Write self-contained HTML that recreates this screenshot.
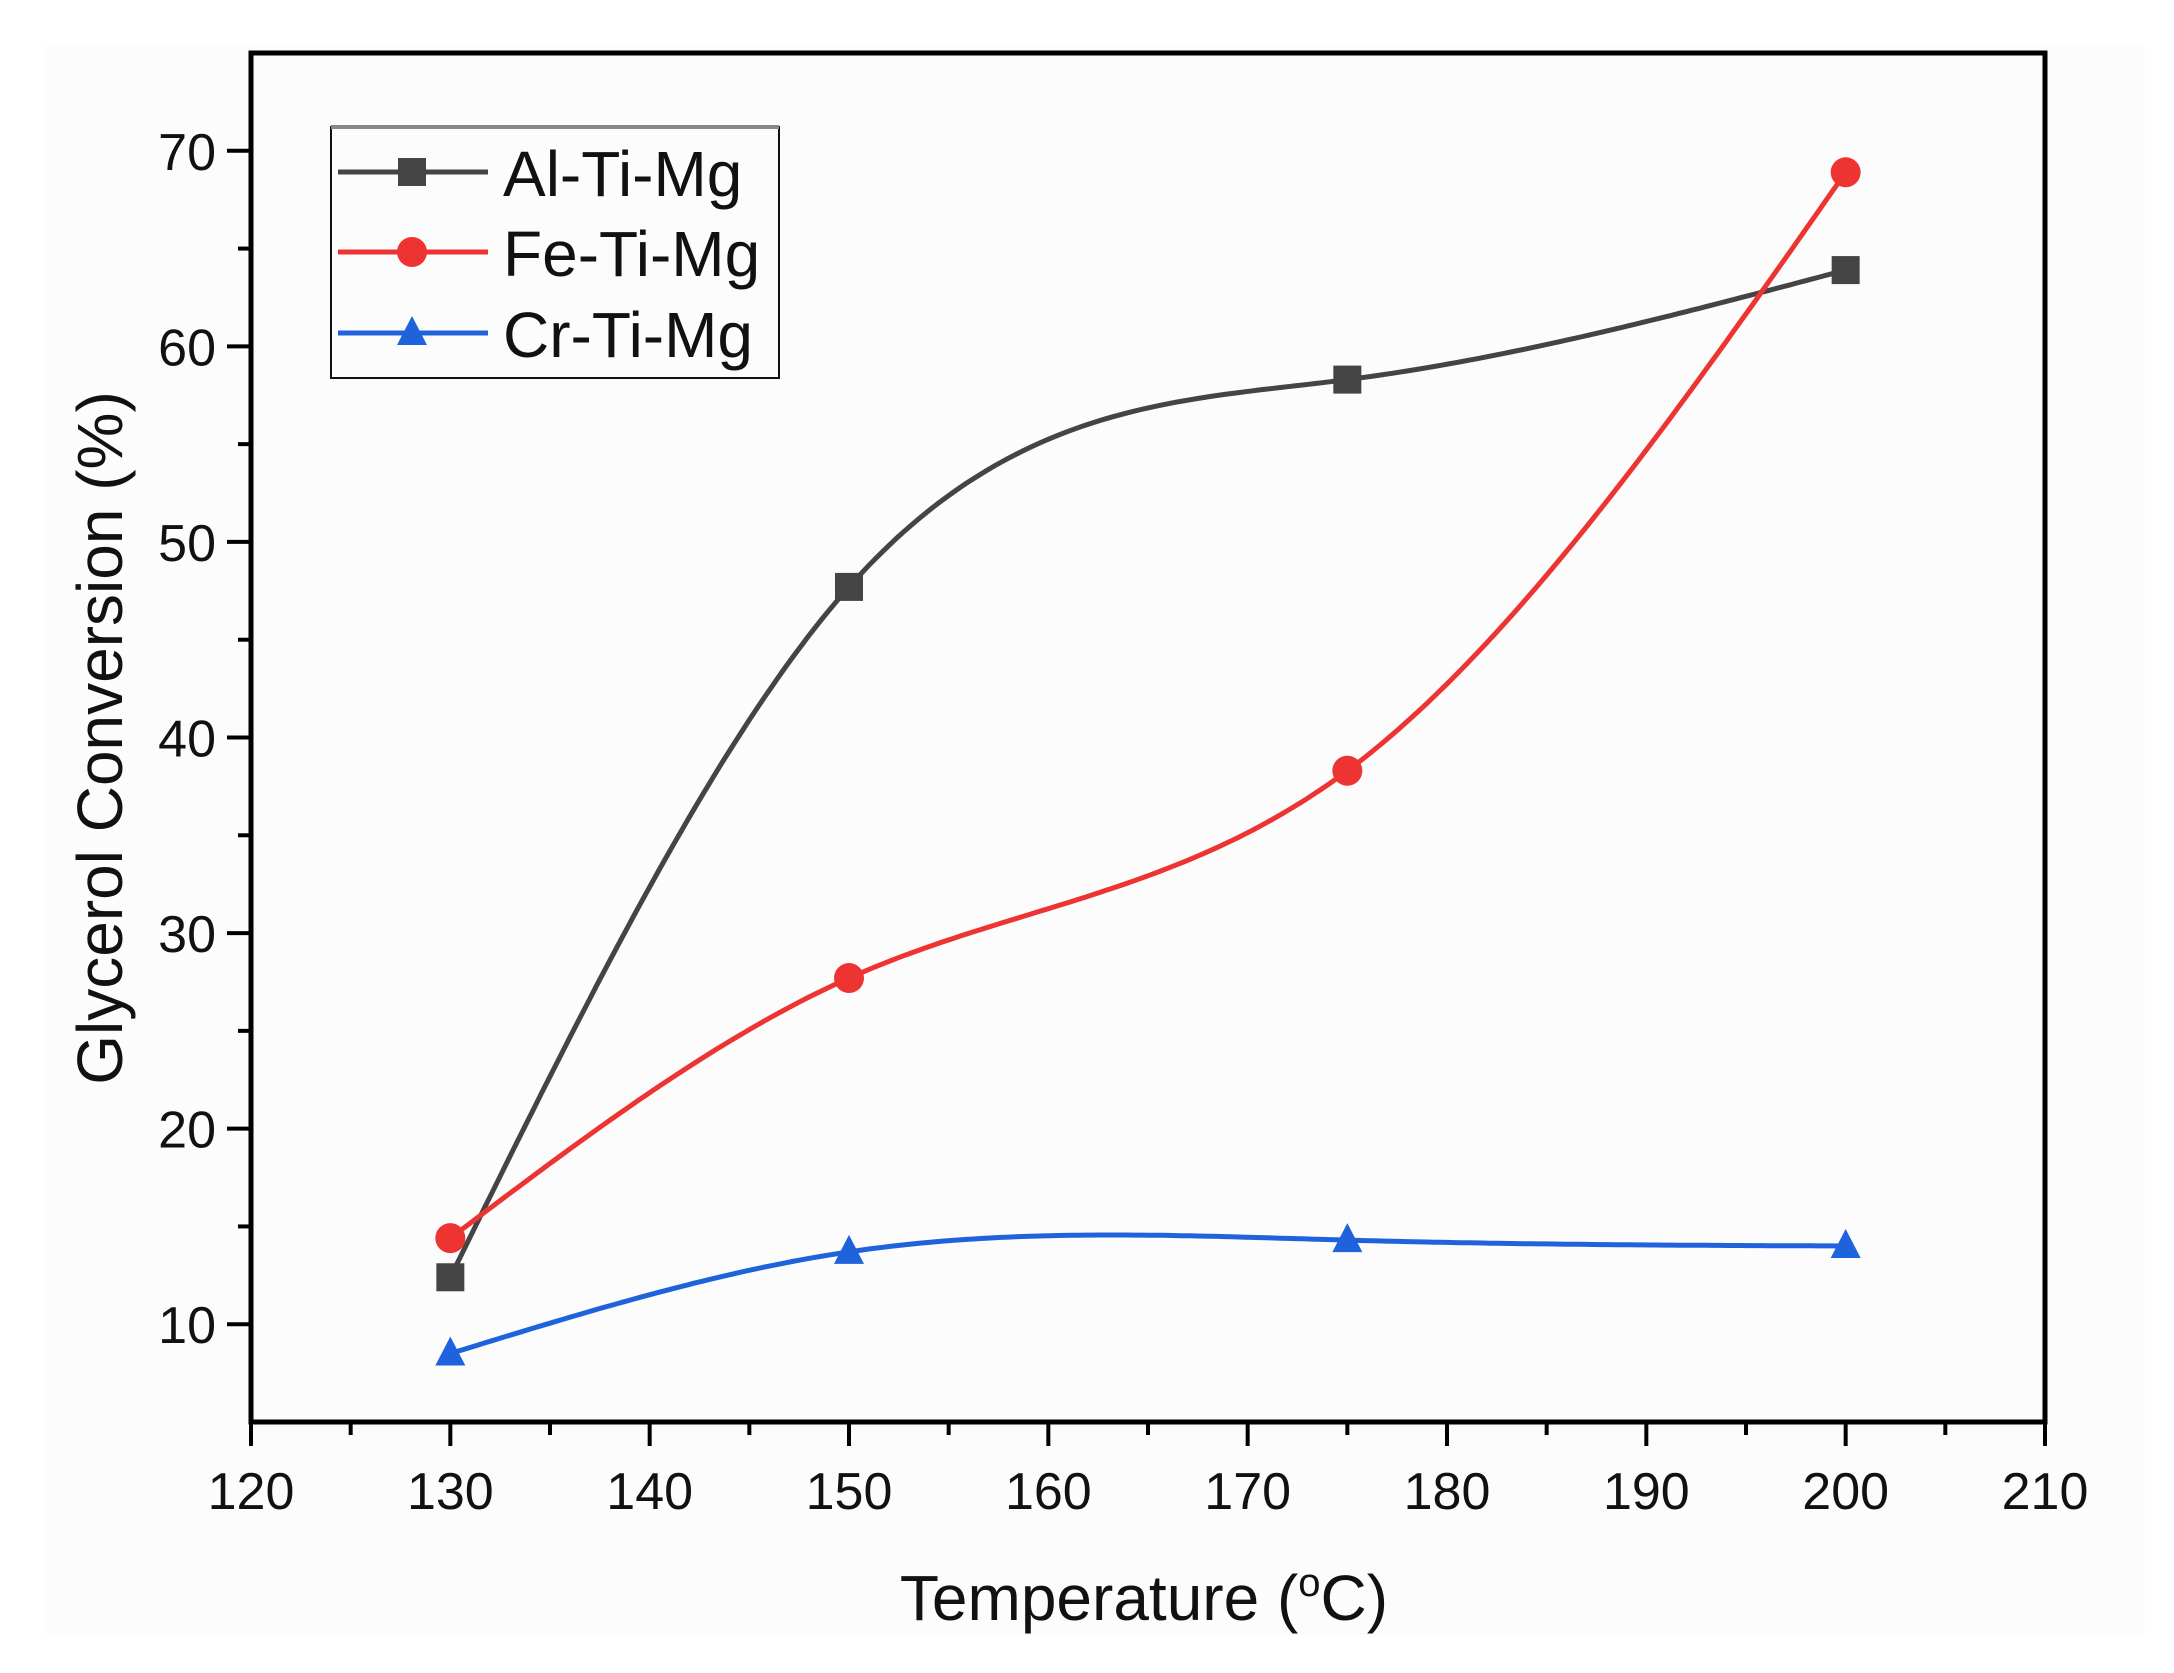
<!DOCTYPE html>
<html><head><meta charset="utf-8"><style>
html,body{margin:0;padding:0;background:#fff;}
svg{display:block;font-family:"Liberation Sans",Arial,sans-serif;}
</style></head><body>
<svg id="chart" width="2174" height="1673" viewBox="0 0 2174 1673" xmlns="http://www.w3.org/2000/svg">
<rect x="45" y="45" width="2100" height="1590" fill="#fcfcfc"/>
<g id="plot"></g>
</svg>
<script>
const categories = [130, 150, 175, 200];
const alValues = [12.4, 47.7, 58.3, 63.9];
const feValues = [14.4, 27.7, 38.3, 68.9];
const crValues = [8.5, 13.7, 14.3, 14.0];
const seriesNames = ["Al-Ti-Mg", "Fe-Ti-Mg", "Cr-Ti-Mg"];
const xTickLabels = [120, 130, 140, 150, 160, 170, 180, 190, 200, 210];
const yTickLabels = [10, 20, 30, 40, 50, 60, 70];

const NS = "http://www.w3.org/2000/svg";
const L = 251, R = 2045, T = 53, B = 1422;
const xMin = 120, xMax = 210, yMin = 5, yMax = 75;
function xs(v){ return L + (v - xMin) / (xMax - xMin) * (R - L); }
function ys(v){ return B - (v - yMin) / (yMax - yMin) * (B - T); }
const g = document.getElementById('plot');
function mk(tag, attrs, parent){
  const e = document.createElementNS(NS, tag);
  for (const k in attrs) e.setAttribute(k, attrs[k]);
  (parent || g).appendChild(e);
  return e;
}
function spline(xa, ya){
  const n = xa.length, h = [], al = [], l = [1], mu = [0], z = [0], c = new Array(n).fill(0), b = [], d = [];
  for (let i=0;i<n-1;i++) h.push(xa[i+1]-xa[i]);
  for (let i=1;i<n-1;i++) al[i] = 3/h[i]*(ya[i+1]-ya[i]) - 3/h[i-1]*(ya[i]-ya[i-1]);
  for (let i=1;i<n-1;i++){ l[i]=2*(xa[i+1]-xa[i-1])-h[i-1]*mu[i-1]; mu[i]=h[i]/l[i]; z[i]=(al[i]-h[i-1]*z[i-1])/l[i]; }
  for (let j=n-2;j>=0;j--){ c[j]=j>0 ? z[j]-mu[j]*c[j+1] : 0; b[j]=(ya[j+1]-ya[j])/h[j]-h[j]*(c[j+1]+2*c[j])/3; d[j]=(c[j+1]-c[j])/(3*h[j]); }
  return function(x){
    let i = 0; while (i < n-2 && x > xa[i+1]) i++;
    const dx = x - xa[i];
    return ya[i] + b[i]*dx + c[i]*dx*dx + d[i]*dx*dx*dx;
  };
}

const axes = mk('g', {});


mk('rect', {x:L, y:T, width:R-L, height:B-T, fill:'none', stroke:'#000', 'stroke-width':5}, axes);

for (let v = xMin; v <= xMax; v += 5){
  const major = v % 10 === 0;
  const t = mk('line', {x1:xs(v), x2:xs(v), y1:B, y2:B + (major?24:13), stroke:'#000', 'stroke-width':4}, axes);
  
  
}
xTickLabels.forEach(v => {
  const t = mk('text', {x:xs(v), y:1509, 'font-size':52, 'text-anchor':'middle', fill:'#111'}, axes);
  t.textContent = v;
  
  
});
for (let v = yMin; v <= yMax; v += 5){
  if (v === yMin || v === yMax) continue;
  const major = v % 10 === 0;
  const t = mk('line', {x1:L, x2:L - (major?24:13), y1:ys(v), y2:ys(v), stroke:'#000', 'stroke-width':4}, axes);
  
  
}
yTickLabels.forEach(v => {
  const t = mk('text', {x:216, y:ys(v)+19, 'font-size':52, 'text-anchor':'end', fill:'#111'}, axes);
  t.textContent = v;
  
  
});
const xt = mk('text', {x:1144, y:1620, 'font-size':64, 'text-anchor':'middle', fill:'#111'});
xt.innerHTML = 'Temperature (<tspan font-size="40" dy="-24">o</tspan><tspan dy="24">C)</tspan>';


const yt = mk('text', {x:0, y:0, 'font-size':64, 'text-anchor':'middle', fill:'#111', transform:'translate(122 738) rotate(-90)'});
yt.textContent = 'Glycerol Conversion (%)';



const colors = ['#444444', '#ee3333', '#1e62dc'];
const allValues = [alValues, feValues, crValues];
const keys = ['al-ti-mg', 'fe-ti-mg', 'cr-ti-mg'];
function marker(kind, cx, cy, color, parent){
  let m;
  if (kind === 0) m = mk('rect', {x:cx-14, y:cy-14, width:28, height:28, fill:color}, parent);
  else if (kind === 1) m = mk('circle', {cx:cx, cy:cy, r:15, fill:color}, parent);
  else m = mk('polygon', {points:`${cx},${cy-17} ${cx+15},${cy+12} ${cx-15},${cy+12}`, fill:color}, parent);
  return m;
}
allValues.forEach((vals, s) => {
  const grp = mk('g', {});
  
  
  const f = spline(categories, vals);
  let d = '';
  const x0 = categories[0], x1 = categories[categories.length-1];
  for (let i = 0; i <= 200; i++){
    const x = x0 + (x1 - x0) * i / 200;
    d += (i ? 'L' : 'M') + xs(x).toFixed(1) + ' ' + ys(f(x)).toFixed(1);
  }
  const p = mk('path', {d:d, fill:'none', stroke:colors[s], 'stroke-width':5}, grp);
  
  
  vals.forEach((v, i) => {
    const m = marker(s, xs(categories[i]), ys(v), colors[s], grp);
    
    
  });
});

const lg = mk('g', {});


mk('rect', {x:331, y:127, width:448, height:251, fill:'#fcfcfc', stroke:'#111', 'stroke-width':2}, lg);
mk('line', {x1:331, x2:779, y1:127, y2:127, stroke:'#888', 'stroke-width':4}, lg);
const rowY = [172, 252, 333];
seriesNames.forEach((name, s) => {
  const e = mk('g', {}, lg);
  
  
  mk('line', {x1:338, x2:488, y1:rowY[s], y2:rowY[s], stroke:colors[s], 'stroke-width':5}, e);
  marker(s, 412, rowY[s], colors[s], e);
  const t = mk('text', {x:503, y:rowY[s]+24, 'font-size':64, fill:'#111'}, e);
  t.textContent = name;
});
</script>
</body></html>
